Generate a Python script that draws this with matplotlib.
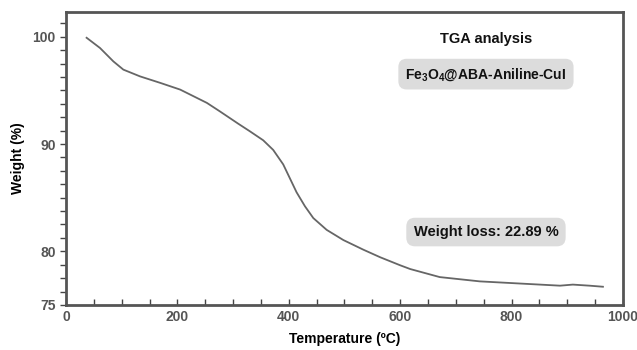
import matplotlib
matplotlib.use('Agg')
import matplotlib.pyplot as plt
from matplotlib.ticker import MultipleLocator, FixedLocator

# TGA curve
temperature = [37, 61, 85, 103, 133, 169, 205, 241, 253, 276, 309, 330, 354, 372,
               390, 402, 414, 429, 444, 468, 498, 534, 564, 600, 618, 671, 743, 815,
               887, 910, 940, 964]
weight = [99.9, 98.95, 97.7, 96.93, 96.3, 95.7, 95.07, 94.14, 93.83, 93.05, 91.9,
          91.19, 90.35, 89.45, 88.1, 86.8, 85.5, 84.2, 83.1, 82.0, 81.05, 80.15, 79.45,
          78.7, 78.35, 77.6, 77.2, 77.0, 76.8, 76.9, 76.8, 76.7]

x_ticks = [0, 200, 400, 600, 800, 1000]
y_ticks = [75, 80, 90, 100]

plt.rcParams['font.family'] = ['Liberation Sans', 'DejaVu Sans']
plt.rcParams['mathtext.fontset'] = 'custom'
plt.rcParams['mathtext.bf'] = 'Liberation Sans:bold'
plt.rcParams['mathtext.default'] = 'bf'

fig = plt.figure(figsize=(6.37, 3.5), dpi=100)
ax = fig.add_axes([0.1036, 0.1286, 0.8744, 0.8371])

ax.plot(temperature, weight, color='#666666', linewidth=1.3)

ax.set_xlim(0, 1000)
ax.set_ylim(75, 102.3)
ax.xaxis.set_major_locator(FixedLocator(x_ticks))
ax.xaxis.set_minor_locator(MultipleLocator(50))
ax.yaxis.set_major_locator(FixedLocator(y_ticks))
ax.yaxis.set_minor_locator(MultipleLocator(1.25))

ax.tick_params(axis='x', which='both', direction='in', length=4, width=1, color='#444444')
ax.tick_params(axis='y', which='both', direction='out', length=4, width=1, color='#444444')
ax.tick_params(axis='both', which='major', labelsize=10, labelcolor='#555555')
for lab in ax.get_xticklabels() + ax.get_yticklabels():
    lab.set_fontweight('bold')

for s in ax.spines.values():
    s.set_color('#555555')
    s.set_linewidth(2)

ax.set_xlabel('Temperature (ºC)', fontsize=10, fontweight='bold', labelpad=6)
ax.set_ylabel('Weight (%)', fontsize=10, fontweight='bold', labelpad=5)

ax.text(0.754, 0.907, 'TGA analysis', transform=ax.transAxes, ha='center', va='center',
        fontsize=10.5, fontweight='bold', color='#111111')
box = dict(boxstyle='round,pad=0.5,rounding_size=0.6', facecolor='#dcdcdc', edgecolor='none')
ax.text(0.754, 0.788, 'Fe$_3$O$_4$@ABA-Aniline-CuI', transform=ax.transAxes, ha='center',
        va='center', fontsize=10, fontweight='bold', color='#111111', bbox=box)
ax.text(0.754, 0.249, 'Weight loss: 22.89 %', transform=ax.transAxes, ha='center',
        va='center', fontsize=10.5, fontweight='bold', color='#111111', bbox=box)

fig.savefig('out.png', dpi=100)
